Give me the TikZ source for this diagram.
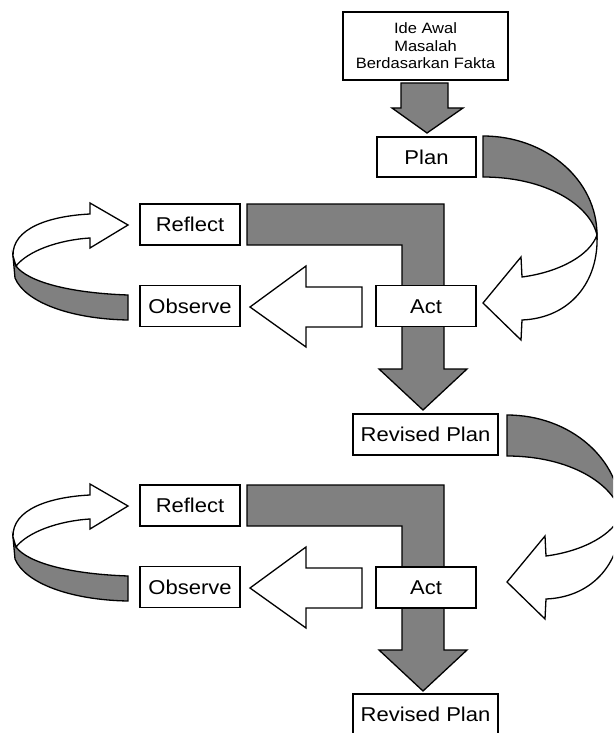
\documentclass[tikz,border=0pt]{standalone}
\usepackage{fontspec}
\setmainfont{Liberation Sans}[FakeStretch=1.1]
\definecolor{arrgray}{HTML}{808080}
\tikzset{
  box/.style={draw=black, line width=1.5pt, fill=white, minimum width=100pt, minimum height=41pt,
    inner sep=0pt, text height=14.3pt, text depth=0pt, font=\fontsize{20}{24}\selectfont},
  garrow/.style={draw=black, line width=1.3pt, fill=arrgray, line join=miter},
  warrow/.style={draw=black, line width=1.3pt, fill=white, line join=miter},
}
\newcommand{\RCurveShape}{%
  \draw[garrow] (483,136) .. controls (546,136) and (597,180) .. (597,235)
     .. controls (590,205) and (546,177) .. (483,177) -- cycle;
  \draw[warrow] (597,235) .. controls (599,282) and (570,318) .. (522,320)
     -- (521,340) -- (483,303) -- (521,257) -- (522,277)
     .. controls (560,272) and (590,255) .. (597,235) -- cycle;
}
\newcommand{\LCurveShape}{%
  \draw[garrow] (13,256) -- (15,278) .. controls (25,302) and (70,319) .. (128,320)
     -- (128,295) .. controls (70,293) and (28,282) .. (16,266) -- cycle;
  \draw[warrow] (13,256) .. controls (12,228) and (50,216) .. (90,214)
     -- (90,203) -- (128,225) -- (90,248) -- (90,238)
     .. controls (58,240) and (28,251) .. (16,266) -- cycle;
}
\newcommand{\RowShapes}{%
  % L-shaped gray arrow
  \draw[garrow] (247,204) -- (444,204) -- (444,369) -- (467,369) -- (423,410)
     -- (379,369) -- (402,369) -- (402,245) -- (247,245) -- cycle;
  % white arrow towards Observe
  \draw[warrow] (362,287) -- (362,327) -- (306,327) -- (306,347) -- (250,307)
     -- (306,266) -- (306,287) -- cycle;
  \LCurveShape
}
\begin{document}
\begin{tikzpicture}[x=1pt,y=-1pt]
\useasboundingbox (0,0) rectangle (613,733);
\clip (0,0) rectangle (613,733);

% first row shapes
\begin{scope}
  \RowShapes
  \RCurveShape
\end{scope}
% second row shapes
\begin{scope}[shift={(0,281)}]
  \RowShapes
\end{scope}
\begin{scope}[shift={(24,279)}]
  \RCurveShape
\end{scope}

% top down arrow
\draw[garrow] (401,83) -- (448,83) -- (448,108) -- (463,108) -- (427,133)
   -- (392,108) -- (401,108) -- cycle;

% boxes
\node[box, minimum width=165pt, minimum height=68pt, align=center, text height=, text depth=,
      font=\fontsize{15}{17.5}\selectfont] (idea) at (425.5,46)
      {Ide Awal\\Masalah\\Berdasarkan Fakta};
\node[box, minimum width=99pt, minimum height=40pt] (plan) at (426.5,157) {Plan};

\node[box] (reflect1) at (190,224.5) {Reflect};
\node[box] (observe1) at (190,306) {Observe};
\node[box] (act1) at (426,306) {Act};
\node[box, minimum width=145pt] (rplan1) at (425.5,434.5) {Revised Plan};

\node[box] (reflect2) at (190,505.5) {Reflect};
\node[box] (observe2) at (190,587) {Observe};
\node[box] (act2) at (426,587.5) {Act};
\node[box, minimum width=145pt] (rplan2) at (425.5,714.5) {Revised Plan};
\end{tikzpicture}
\end{document}
